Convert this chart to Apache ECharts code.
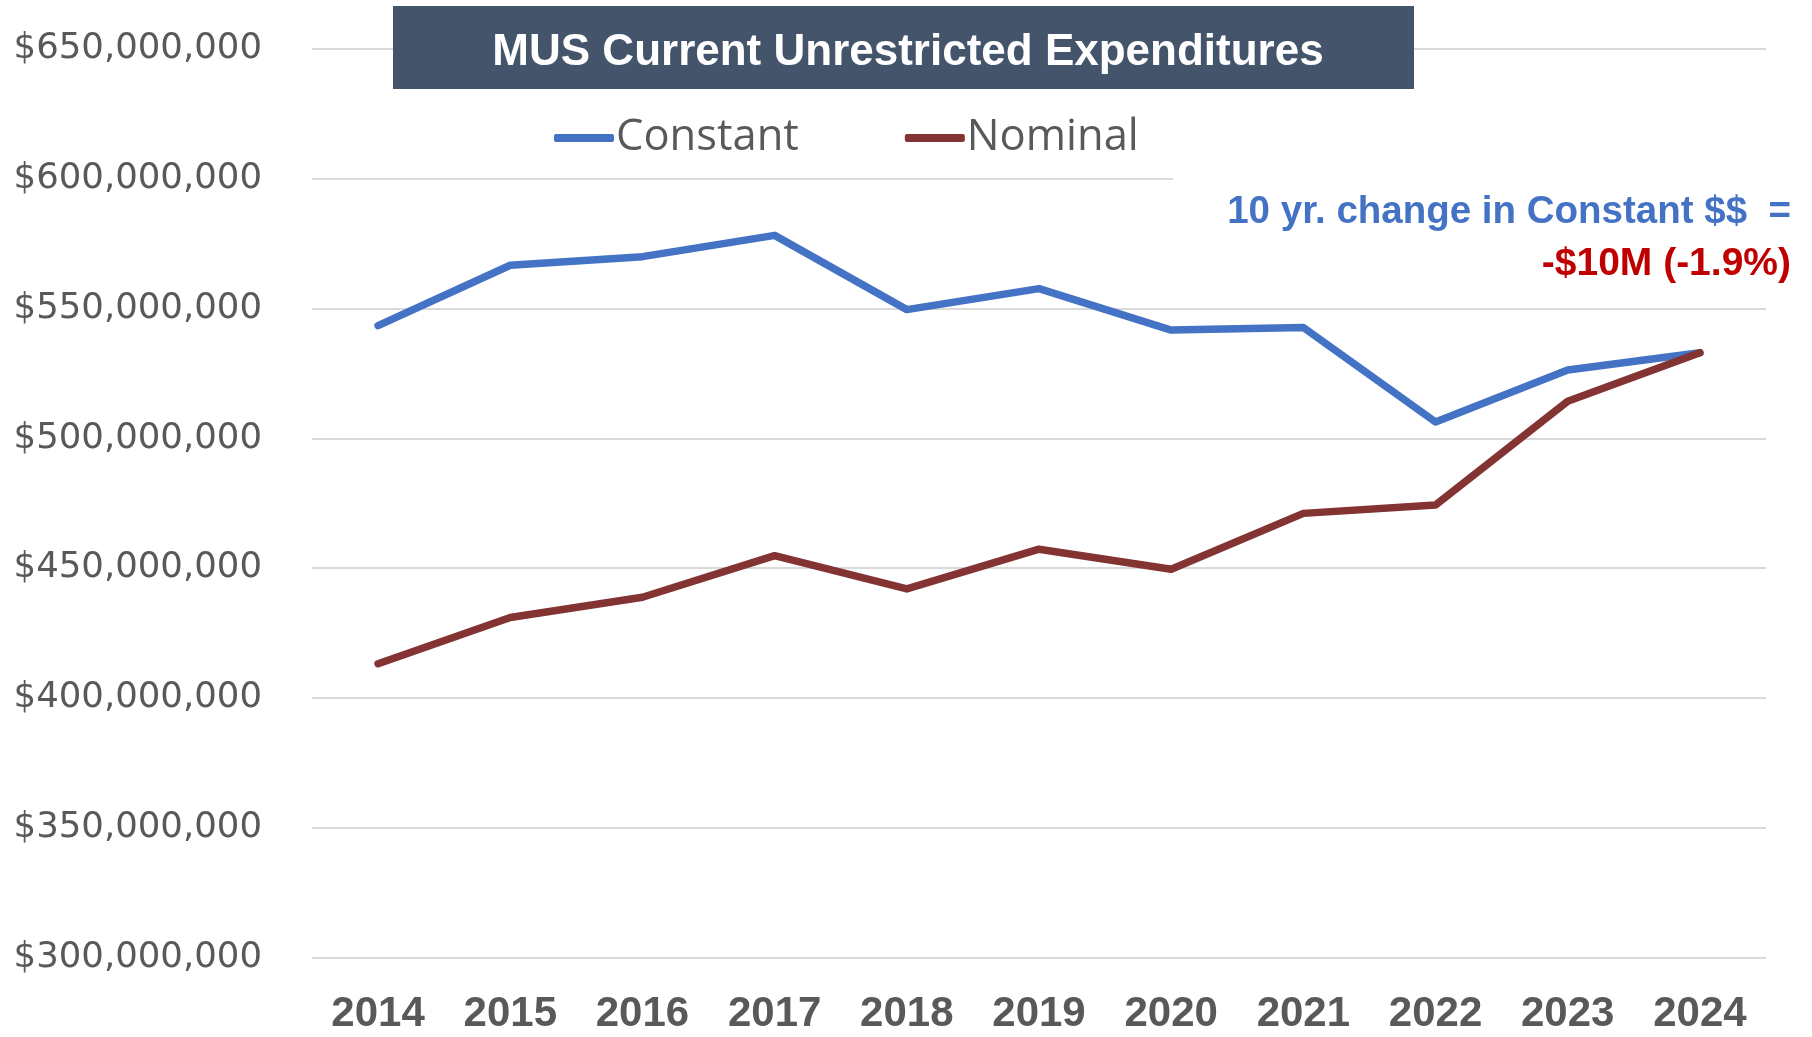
<!DOCTYPE html>
<html>
<head>
<meta charset="utf-8">
<script src="https://cdn.jsdelivr.net/npm/echarts@6/dist/echarts.min.js"></script>
<style>
html,body{margin:0;padding:0;background:#fff;}
#chart{width:1812px;height:1037px;}
</style>
</head>
<body>
<div id="chart"></div>
<script>
const years = ['2014','2015','2016','2017','2018','2019','2020','2021','2022','2023','2024'];
const constantValues = [543400000, 566700000, 570000000, 578200000, 549600000, 557700000, 541700000, 542700000, 506300000, 526300000, 533000000];
const nominalValues = [413200000, 431000000, 438800000, 454800000, 442000000, 457300000, 449600000, 471100000, 474300000, 514300000, 533000000];
const yTicks = { min: 300000000, max: 650000000, interval: 50000000 };
const titleText = 'MUS Current Unrestricted Expenditures';
const noteLine1 = '10 yr. change in Constant $$  =';
const noteLine2 = '-$10M (-1.9%)';

const chart = echarts.init(document.getElementById('chart'), null, { renderer: 'canvas' });

function fmtMoney(v) {
  return '$' + Math.round(v).toString().replace(/\B(?=(\d{3})+(?!\d))/g, ',');
}

const option = {
  backgroundColor: '#ffffff',
  animation: false,
  grid: { left: 312, right: 46, top: 49, bottom: 79.5, containLabel: false },
  title: {
    text: titleText,
    left: 903,
    top: 26,
    textAlign: 'center',
    textStyle: { color: '#ffffff', fontFamily: 'Liberation Sans', fontWeight: 'bold', fontSize: 44 },
    z: 10
  },
  legend: {
    left: 549,
    top: 111,
    itemWidth: 60,
    itemHeight: 8,
    itemGap: 106,
    icon: 'roundRect',
    textStyle: { color: '#595959', fontFamily: 'Open Sans', fontSize: 43.5, padding: [0, 0, 0, -3] },
    data: ['Constant', 'Nominal']
  },
  xAxis: {
    type: 'category',
    data: years,
    boundaryGap: true,
    axisLine: { show: false },
    axisTick: { show: false },
    axisLabel: { color: '#595959', fontFamily: 'Liberation Sans', fontWeight: 'bold', fontSize: 42, margin: 36 }
  },
  yAxis: {
    type: 'value',
    min: yTicks.min,
    max: yTicks.max,
    interval: yTicks.interval,
    axisLine: { show: false },
    axisTick: { show: false },
    splitLine: { lineStyle: { color: '#D9D9D9', width: 2 } },
    axisLabel: { color: '#595959', fontFamily: 'DejaVu Sans', fontSize: 35.5, margin: 50, formatter: fmtMoney }
  },
  series: [
    {
      name: 'Constant', type: 'line', data: constantValues, showSymbol: false, symbol: 'none',
      lineStyle: { color: '#4472C4', width: 7.5, cap: 'round', join: 'round' },
      itemStyle: { color: '#4472C4' }, z: 3
    },
    {
      name: 'Nominal', type: 'line', data: nominalValues, showSymbol: false, symbol: 'none',
      lineStyle: { color: '#843333', width: 7.5, cap: 'round', join: 'round' },
      itemStyle: { color: '#843333' }, z: 4
    }
  ],
  graphic: [
    { type: 'rect', shape: { x: 393, y: 6, width: 1021, height: 83 }, style: { fill: '#44546A' }, z: 5 },
    { type: 'rect', shape: { x: 1173, y: 150, width: 639, height: 140 }, style: { fill: '#ffffff' }, z: 5 },
    { type: 'text', x: 1791, y: 212.5, z: 6,
      style: { text: noteLine1, fill: '#4472C4', font: 'bold 38.5px "Liberation Sans"', textAlign: 'right', textVerticalAlign: 'middle' } },
    { type: 'text', x: 1791, y: 264.5, z: 6,
      style: { text: noteLine2, fill: '#C00000', font: 'bold 39px "Liberation Sans"', textAlign: 'right', textVerticalAlign: 'middle' } }
  ]
};
chart.setOption(option);
</script>
</body>
</html>
